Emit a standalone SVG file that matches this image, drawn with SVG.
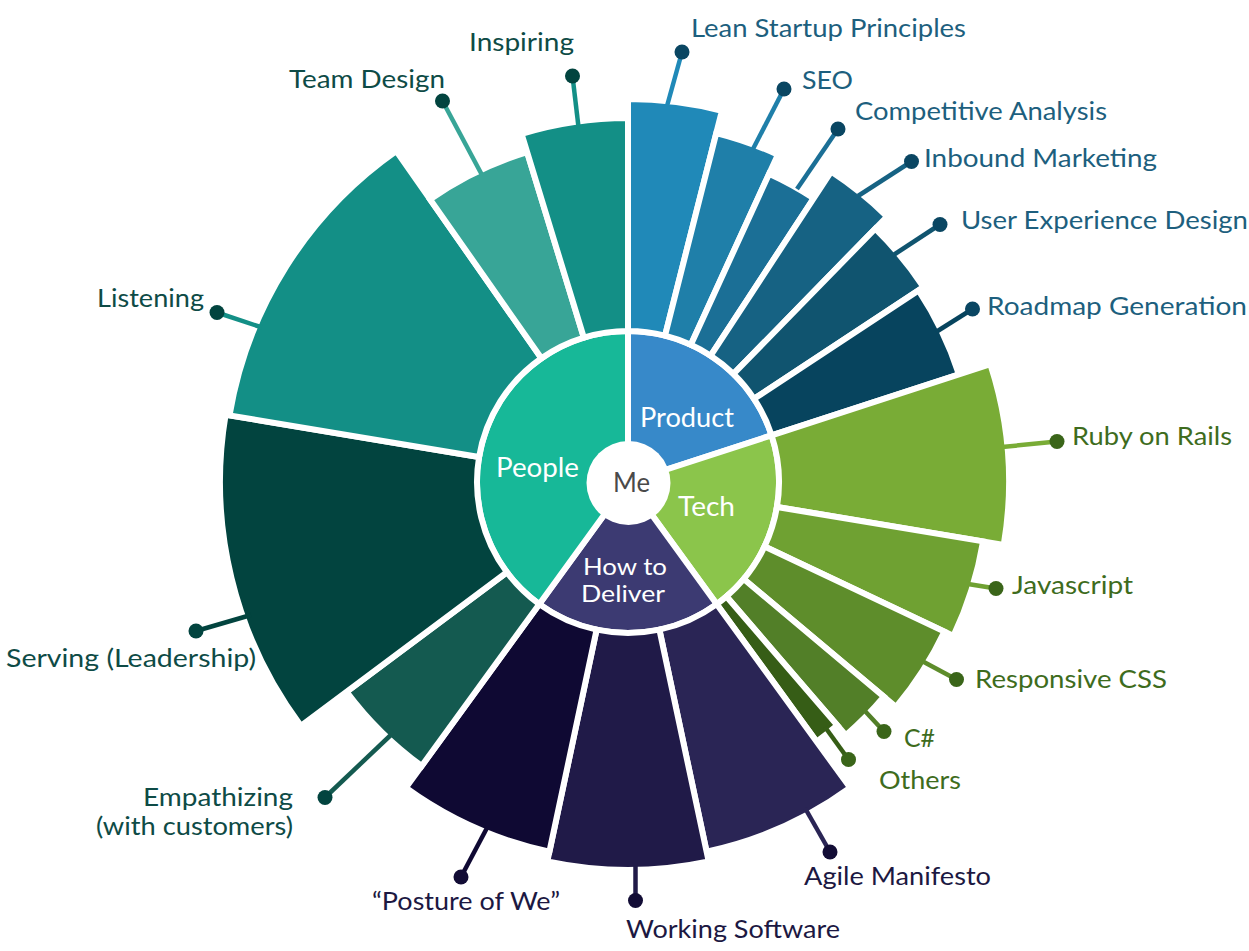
<svg xmlns="http://www.w3.org/2000/svg" width="1249" height="951" viewBox="0 0 1249 951">
<style>
.seg{stroke:#fff;stroke-width:6;stroke-linejoin:miter}
.t{font-family:Lato,"Open Sans","Liberation Sans",sans-serif;font-size:25px}
.in{font-family:Lato,"Open Sans","Liberation Sans",sans-serif;font-size:26px;fill:#fff}
.in2{font-family:Lato,"Open Sans","Liberation Sans",sans-serif;font-size:23px;fill:#fff}
.pr{fill:#1d5f7e}.te{fill:#3e6c1d}.de{fill:#1c1842}.pe{fill:#0e4b46}
.ln{stroke-width:4.5;stroke-linecap:butt;fill:none}
</style>
<rect width="1249" height="951" fill="#fff"/>

<g id="ring">
<g id="node-product"><path class="seg" fill="#3789c9" d="M628,482 L628,331 A151,151 0 0 1 771.62,435.34 Z"/><text class="in" x="640" y="427" textLength="94" lengthAdjust="spacingAndGlyphs">Product</text></g>
<g id="node-tech"><path class="seg" fill="#8bc54b" d="M628,482 L771.62,435.34 A151,151 0 0 1 716.76,604.16 Z"/><text class="in" x="678" y="516" textLength="57" lengthAdjust="spacingAndGlyphs">Tech</text></g>
<g id="node-deliver"><path class="seg" fill="#3c3a72" d="M628,482 L716.76,604.16 A151,151 0 0 1 539.24,604.16 Z"/><text class="in2" x="583" y="575" textLength="84" lengthAdjust="spacingAndGlyphs">How to</text><text class="in2" x="581" y="602" textLength="84" lengthAdjust="spacingAndGlyphs">Deliver</text></g>
<g id="node-people"><path class="seg" fill="#17b898" d="M628,482 L539.24,604.16 A151,151 0 0 1 628,331 Z"/><text class="in" x="496" y="477" textLength="83" lengthAdjust="spacingAndGlyphs">People</text></g>
<g id="node-me"><circle cx="628.5" cy="483" r="42" fill="#fff"/><text x="613" y="492" textLength="37" lengthAdjust="spacingAndGlyphs" style="font-family:Lato,'Open Sans','Liberation Sans',sans-serif;font-size:26px;fill:#4a4a4a">Me</text></g>
</g>

<g id="outer">
<g id="node-lean"><path class="seg" fill="#2089b8" d="M628,331 L628,99 A383,383 0 0 1 721.95,110.72 L665.04,335.62 A151,151 0 0 0 628,331Z"/><text class="t pr" x="691" y="37" textLength="275" lengthAdjust="spacingAndGlyphs">Lean Startup Principles</text></g>
<g id="node-seo"><path class="seg" fill="#1f7fa9" d="M665.04,335.62 L716.31,133.02 A360,360 0 0 1 777.87,154.69 L690.86,344.71 A151,151 0 0 0 665.04,335.62Z"/><text class="t pr" x="802" y="89" textLength="51" lengthAdjust="spacingAndGlyphs">SEO</text></g>
<g id="node-competitive"><path class="seg" fill="#1b6f96" d="M690.86,344.71 L769.13,173.78 A339,339 0 0 1 813.64,198.32 L710.69,355.64 A151,151 0 0 0 690.86,344.71Z"/><text class="t pr" x="855" y="120" textLength="252" lengthAdjust="spacingAndGlyphs">Competitive Analysis</text></g>
<g id="node-inbound"><path class="seg" fill="#166283" d="M710.69,355.64 L831.16,171.55 A371,371 0 0 1 887.11,216.48 L733.46,373.93 A151,151 0 0 0 710.69,355.64Z"/><text class="t pr" x="924" y="167" textLength="233" lengthAdjust="spacingAndGlyphs">Inbound Marketing</text></g>
<g id="node-ux"><path class="seg" fill="#10546f" d="M733.46,373.93 L875.23,228.64 A354,354 0 0 1 923.52,287.12 L754.05,398.87 A151,151 0 0 0 733.46,373.93Z"/><text class="t pr" x="961" y="229" textLength="287" lengthAdjust="spacingAndGlyphs">User Experience Design</text></g>
<g id="node-roadmap"><path class="seg" fill="#07445e" d="M754.05,398.87 L918.51,290.43 A348,348 0 0 1 958.98,374.47 L771.62,435.34 A151,151 0 0 0 754.05,398.87Z"/><text class="t pr" x="987" y="315" textLength="260" lengthAdjust="spacingAndGlyphs">Roadmap Generation</text></g>

<g id="node-ruby"><path class="seg" fill="#79ac36" d="M771.62,435.34 L990.37,364.27 A381,381 0 0 1 1003.78,544.86 L776.93,506.92 A151,151 0 0 0 771.62,435.34Z"/><text class="t te" x="1072" y="445" textLength="160" lengthAdjust="spacingAndGlyphs">Ruby on Rails</text></g>
<g id="node-js"><path class="seg" fill="#6fa132" d="M776.93,506.92 L983.07,541.40 A360,360 0 0 1 953.48,635.86 L764.52,546.54 A151,151 0 0 0 776.93,506.92Z"/><text class="t te" x="1012" y="594" textLength="121" lengthAdjust="spacingAndGlyphs">Javascript</text></g>
<g id="node-css"><path class="seg" fill="#5e8d2b" d="M764.52,546.54 L944.44,631.59 A350,350 0 0 1 896.10,706.98 L743.67,579.06 A151,151 0 0 0 764.52,546.54Z"/><text class="t te" x="975" y="688" textLength="192" lengthAdjust="spacingAndGlyphs">Responsive CSS</text></g>
<g id="node-csharp"><path class="seg" fill="#527f28" d="M743.67,579.06 L883.84,696.70 A334,334 0 0 1 845.80,735.21 L726.47,596.47 A151,151 0 0 0 743.67,579.06Z"/><text class="t te" x="904" y="747" textLength="31" lengthAdjust="spacingAndGlyphs">C#</text></g>
<g id="node-others"><path class="seg" fill="#365d16" d="M726.47,596.47 L837.32,725.35 A321,321 0 0 1 816.68,741.69 L716.76,604.16 A151,151 0 0 0 726.47,596.47Z"/><text class="t te" x="879" y="789" textLength="82" lengthAdjust="spacingAndGlyphs">Others</text></g>

<g id="node-agile"><path class="seg" fill="#2a2555" d="M716.76,604.16 L850.19,787.80 A378,378 0 0 1 706.59,851.72 L659.39,629.69 A151,151 0 0 0 716.76,604.16Z"/><text class="t de" x="804" y="885" textLength="187" lengthAdjust="spacingAndGlyphs">Agile Manifesto</text></g>
<g id="node-working"><path class="seg" fill="#201a48" d="M659.39,629.69 L708.67,861.50 A388,388 0 0 1 547.33,861.50 L596.61,629.69 A151,151 0 0 0 659.39,629.69Z"/><text class="t de" x="626" y="938" textLength="214" lengthAdjust="spacingAndGlyphs">Working Software</text></g>
<g id="node-posture"><path class="seg" fill="#0f0933" d="M596.61,629.69 L549.41,851.72 A378,378 0 0 1 405.81,787.80 L539.24,604.16 A151,151 0 0 0 596.61,629.69Z"/><text class="t de" x="372" y="910" textLength="188" lengthAdjust="spacingAndGlyphs">“Posture of We”</text></g>

<g id="node-empathizing"><path class="seg" fill="#145a50" d="M539.24,604.16 L421.68,765.96 A351,351 0 0 1 346.57,691.76 L506.93,572.24 A151,151 0 0 0 539.24,604.16Z"/><text class="t pe" x="143" y="806" textLength="150" lengthAdjust="spacingAndGlyphs">Empathizing</text><text class="t pe" x="96" y="835" textLength="197" lengthAdjust="spacingAndGlyphs">(with customers)</text></g>
<g id="node-serving"><path class="seg" fill="#02443f" d="M506.93,572.24 L300.87,725.82 A408,408 0 0 1 225.59,414.68 L479.07,457.08 A151,151 0 0 0 506.93,572.24Z"/><text class="t pe" x="6" y="667" textLength="250" lengthAdjust="spacingAndGlyphs">Serving (Leadership)</text></g>
<g id="node-listening"><path class="seg" fill="#138f86" d="M479.07,457.08 L229.53,415.34 A404,404 0 0 1 396.27,151.04 L541.39,358.30 A151,151 0 0 0 479.07,457.08Z"/><text class="t pe" x="97" y="307" textLength="107" lengthAdjust="spacingAndGlyphs">Listening</text></g>
<g id="node-team"><path class="seg" fill="#38a597" d="M541.39,358.30 L430.11,199.38 A345,345 0 0 1 527.12,152.08 L583.85,337.60 A151,151 0 0 0 541.39,358.30Z"/><text class="t pe" x="289" y="88" textLength="156" lengthAdjust="spacingAndGlyphs">Team Design</text></g>
<g id="node-inspiring"><path class="seg" fill="#138f86" d="M583.85,337.60 L521.57,133.91 A364,364 0 0 1 628,118 L628,331 A151,151 0 0 0 583.85,337.60Z"/><text class="t pe" x="469" y="51" textLength="105" lengthAdjust="spacingAndGlyphs">Inspiring</text></g>
</g>

<g id="connectors">
<line class="ln" stroke="#2089b8" x1="667" y1="106" x2="682" y2="52"/><circle cx="682" cy="52" r="7.5" fill="#0a4662"/>
<line class="ln" stroke="#1f7fa9" x1="753" y1="149" x2="784" y2="89"/><circle cx="784" cy="89" r="7.5" fill="#0a4662"/>
<line class="ln" stroke="#1b6f96" x1="797" y1="189" x2="838" y2="129"/><circle cx="838" cy="129" r="7.5" fill="#0a4662"/>
<line class="ln" stroke="#166283" x1="858" y1="196" x2="911.5" y2="161.5"/><circle cx="911.5" cy="161.5" r="7.5" fill="#0a4662"/>
<line class="ln" stroke="#10546f" x1="892" y1="256" x2="940" y2="224.5"/><circle cx="940" cy="224.5" r="7.5" fill="#0a4662"/>
<line class="ln" stroke="#07445e" x1="936" y1="332" x2="972.5" y2="309"/><circle cx="972.5" cy="309" r="7.5" fill="#0a4662"/>
<line class="ln" stroke="#79ac36" x1="1002" y1="447" x2="1057" y2="441.5"/><circle cx="1057" cy="441.5" r="7.5" fill="#3a6519"/>
<line class="ln" stroke="#6fa132" x1="968" y1="584" x2="996" y2="588.5"/><circle cx="996" cy="588.5" r="7.5" fill="#3a6519"/>
<line class="ln" stroke="#5e8d2b" x1="922" y1="661" x2="956.5" y2="679.5"/><circle cx="956.5" cy="679.5" r="7.5" fill="#3a6519"/>
<line class="ln" stroke="#527f28" x1="864" y1="710" x2="884" y2="731.5"/><circle cx="884" cy="731.5" r="7.5" fill="#3a6519"/>
<line class="ln" stroke="#365d16" x1="825" y1="727" x2="848.5" y2="759.5"/><circle cx="848.5" cy="759.5" r="7.5" fill="#3a6519"/>
<line class="ln" stroke="#2a2555" x1="805" y1="808" x2="830" y2="852"/><circle cx="830" cy="852" r="7.5" fill="#120c35"/>
<line class="ln" stroke="#201a48" x1="635.5" y1="862" x2="635.5" y2="900.5"/><circle cx="635.5" cy="900.5" r="7.5" fill="#120c35"/>
<line class="ln" stroke="#0f0933" x1="488" y1="826" x2="461" y2="877"/><circle cx="461" cy="877" r="7.5" fill="#120c35"/>
<line class="ln" stroke="#145a50" x1="394" y1="732" x2="325" y2="797.5"/><circle cx="325" cy="797.5" r="7.5" fill="#02443f"/>
<line class="ln" stroke="#02443f" x1="251" y1="615" x2="196" y2="631"/><circle cx="196" cy="631" r="7.5" fill="#02443f"/>
<line class="ln" stroke="#138f86" x1="262" y1="327.5" x2="217" y2="312.5"/><circle cx="217" cy="312.5" r="7.5" fill="#02443f"/>
<line class="ln" stroke="#38a597" x1="482" y1="175" x2="442.5" y2="101"/><circle cx="442.5" cy="101" r="7.5" fill="#02443f"/>
<line class="ln" stroke="#138f86" x1="578.5" y1="127" x2="572.5" y2="76"/><circle cx="572.5" cy="76" r="7.5" fill="#02443f"/>
</g>
</svg>
